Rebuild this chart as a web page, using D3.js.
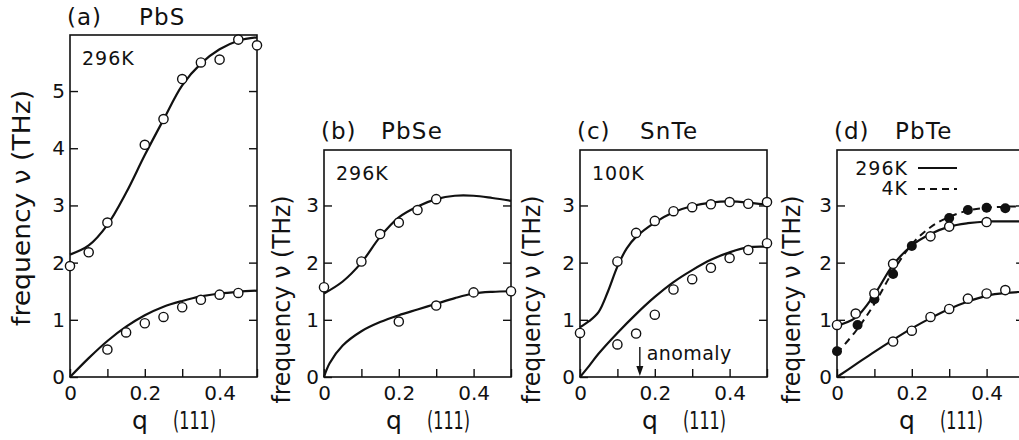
<!DOCTYPE html>
<html>
<head>
<meta charset="utf-8">
<script src="https://cdn.jsdelivr.net/npm/d3@7"></script>
<style>
  body { margin: 0; background: #fff; }
  text { font-family: "DejaVu Sans", sans-serif; fill: #111; }
</style>
</head>
<body>
<script>
'use strict';

// q along (111), frequency in THz
var qTicks = [0, 0.1, 0.2, 0.3, 0.4, 0.5],
    qLabels = [0, 0.2, 0.4];

// (a) PbS 296K
var pbsOpticPts = [[0, 1.94], [0.05, 2.18], [0.1, 2.70], [0.2, 4.06], [0.25, 4.51], [0.3, 5.21],
    [0.35, 5.50], [0.4, 5.55], [0.45, 5.90], [0.5, 5.80]];
var pbsAcousticPts = [[0.1, 0.48], [0.15, 0.78], [0.2, 0.94], [0.25, 1.05], [0.3, 1.22],
    [0.35, 1.35], [0.4, 1.44], [0.45, 1.47]];
var pbsOpticCurve = [[0, 2.14], [0.05, 2.3], [0.1, 2.66], [0.15, 3.22], [0.2, 3.88], [0.25, 4.5],
    [0.3, 5.1], [0.35, 5.48], [0.4, 5.73], [0.45, 5.88], [0.5, 5.94]];
var pbsAcousticCurve = [[0, 0], [0.05, 0.33], [0.1, 0.63], [0.15, 0.88], [0.2, 1.08], [0.25, 1.23],
    [0.3, 1.33], [0.35, 1.41], [0.4, 1.46], [0.45, 1.49], [0.5, 1.51]];

// (b) PbSe 296K
var pbseOpticPts = [[0, 1.57], [0.1, 2.02], [0.15, 2.50], [0.2, 2.70], [0.25, 2.92], [0.3, 3.11]];
var pbseAcousticPts = [[0.2, 0.97], [0.3, 1.25], [0.4, 1.48], [0.5, 1.50]];
var pbseOpticCurve = [[0, 1.46], [0.05, 1.67], [0.1, 2.0], [0.15, 2.45], [0.2, 2.79], [0.25, 2.98],
    [0.3, 3.11], [0.35, 3.17], [0.4, 3.17], [0.45, 3.13], [0.5, 3.08]];
var pbseAcousticCurve = [[0, 0], [0.015, 0.24], [0.05, 0.55], [0.1, 0.80], [0.15, 0.96], [0.2, 1.08],
    [0.25, 1.18], [0.3, 1.28], [0.35, 1.38], [0.4, 1.46], [0.45, 1.49], [0.5, 1.5]];

// (c) SnTe 100K
var snteOpticPts = [[0, 0.77], [0.1, 2.02], [0.15, 2.52], [0.2, 2.73], [0.25, 2.90], [0.3, 2.97],
    [0.35, 3.02], [0.4, 3.06], [0.45, 3.03], [0.5, 3.06]];
var snteAcousticPts = [[0.1, 0.57], [0.15, 0.76], [0.2, 1.09], [0.25, 1.53], [0.3, 1.71],
    [0.35, 1.91], [0.4, 2.08], [0.45, 2.22], [0.5, 2.34]];
var snteOpticCurve = [[0, 0.87], [0.025, 0.98], [0.05, 1.14], [0.075, 1.5], [0.1, 1.93], [0.125, 2.25],
    [0.15, 2.45], [0.2, 2.70], [0.25, 2.88], [0.3, 2.99], [0.35, 3.05], [0.4, 3.07], [0.45, 3.05], [0.5, 3.01]];
var snteAcousticCurve = [[0, 0], [0.025, 0.2], [0.05, 0.41], [0.1, 0.77], [0.15, 1.1], [0.2, 1.4],
    [0.25, 1.66], [0.3, 1.87], [0.35, 2.05], [0.4, 2.18], [0.45, 2.27], [0.5, 2.28]];
var snteAnomalyQ = 0.16;

// (d) PbTe 296K (open, solid) and 4K (filled, dashed)
var pbteOpticPts = [[0, 0.91], [0.05, 1.11], [0.1, 1.46], [0.15, 1.98], [0.25, 2.46], [0.3, 2.63], [0.4, 2.71]];
var pbteOptic4KPts = [[0, 0.45], [0.055, 0.91], [0.1, 1.36], [0.15, 1.80], [0.2, 2.29], [0.3, 2.78],
    [0.35, 2.92], [0.4, 2.96], [0.45, 2.95]];
var pbteAcousticPts = [[0.15, 0.62], [0.2, 0.81], [0.25, 1.05], [0.3, 1.19], [0.35, 1.37], [0.4, 1.46], [0.45, 1.52]];
var pbteOpticCurve = [[0, 0.9], [0.05, 1.04], [0.1, 1.44], [0.15, 1.96], [0.2, 2.3], [0.25, 2.5],
    [0.3, 2.63], [0.35, 2.69], [0.4, 2.72], [0.45, 2.72], [0.5, 2.72]];
var pbteOptic4KCurve = [[0, 0.42], [0.05, 0.8], [0.1, 1.28], [0.15, 1.85], [0.2, 2.32], [0.25, 2.62],
    [0.3, 2.8], [0.35, 2.91], [0.4, 2.96], [0.45, 2.98], [0.5, 2.98]];
var pbteAcousticCurve = [[0, 0], [0.05, 0.22], [0.1, 0.44], [0.15, 0.65], [0.2, 0.85], [0.25, 1.03],
    [0.3, 1.19], [0.35, 1.32], [0.4, 1.42], [0.45, 1.47], [0.5, 1.49]];

var panels = [
    {letter: '(a)', name: 'PbS', temp: '296K', left: 70, top: 35, vmax: 5.98, yTicks: [0, 1, 2, 3, 4, 5],
     labelX: 22, labelLen: 236, titleY: 25, nameDx: 72,
     curves: [pbsOpticCurve, pbsAcousticCurve], open: [pbsOpticPts, pbsAcousticPts]},
    {letter: '(b)', name: 'PbSe', temp: '296K', left: 324, top: 150, vmax: 3.97, yTicks: [0, 1, 2, 3],
     labelX: 282, labelLen: 208, titleY: 139, nameDx: 60,
     curves: [pbseOpticCurve, pbseAcousticCurve], open: [pbseOpticPts, pbseAcousticPts]},
    {letter: '(c)', name: 'SnTe', temp: '100K', left: 580, top: 150, vmax: 3.97, yTicks: [0, 1, 2, 3],
     labelX: 532, labelLen: 208, titleY: 139, nameDx: 63, anomaly: snteAnomalyQ,
     curves: [snteOpticCurve, snteAcousticCurve], open: [snteOpticPts, snteAcousticPts]},
    {letter: '(d)', name: 'PbTe', left: 837, top: 150, vmax: 3.97, yTicks: [0, 1, 2, 3],
     labelX: 792, labelLen: 208, titleY: 139, nameDx: 61, legend: true,
     curves: [pbteOpticCurve, pbteAcousticCurve], dashed: [pbteOptic4KCurve],
     filled: [pbteOptic4KPts], open: [pbteOpticPts, pbteAcousticPts]}
];

var W = 1019, H = 440, bottom = 377, plotW = 187;

var svg = d3.select('body').append('svg')
    .attr('width', W)
    .attr('height', H);

panels.forEach(drawPanel);

function drawPanel(p) {
    var x = d3.scaleLinear().domain([0, 0.5]).range([p.left, p.left + plotW]),
        y = d3.scaleLinear().domain([0, p.vmax]).range([bottom, p.top]);

    var g = svg.append('g').attr('class', 'panel');

    var line = d3.line()
        .x(function(d) { return x(d[0]); })
        .y(function(d) { return y(d[1]); })
        .curve(d3.curveCatmullRom.alpha(0.5));

    // axes, ticks pointing inward
    var axL = g.append('g').attr('transform', 'translate(' + x(0) + ',0)')
        .call(d3.axisLeft(y).tickValues(p.yTicks).tickSize(-8).tickPadding(5).tickFormat(d3.format('d')));
    var axR = g.append('g').attr('transform', 'translate(' + x(0.5) + ',0)')
        .call(d3.axisRight(y).tickValues(p.yTicks.slice(1)).tickSize(-8).tickFormat(''));
    var axB = g.append('g').attr('transform', 'translate(0,' + bottom + ')')
        .call(d3.axisBottom(x).tickValues(qTicks).tickSize(-8).tickPadding(9)
            .tickFormat(function(d) { return qLabels.indexOf(d) >= 0 ? d3.format('')(d) : ''; }));

    [axL, axR, axB].forEach(function(ax) {
        ax.select('.domain').remove();
        ax.selectAll('line').attr('stroke', '#111').attr('stroke-width', 1.4);
        ax.selectAll('text').style('font-family', '"DejaVu Sans", sans-serif')
            .style('font-size', '20px').attr('fill', '#111');
    });

    g.append('rect')
        .attr('x', x(0))
        .attr('y', y(p.vmax))
        .attr('width', x(0.5) - x(0))
        .attr('height', y(0) - y(p.vmax))
        .attr('fill', 'none')
        .attr('stroke', '#111')
        .attr('stroke-width', 1.6);

    // fitted curves
    g.selectAll('path.curve')
        .data(p.curves)
        .enter().append('path')
            .attr('class', 'curve')
            .attr('d', line)
            .attr('fill', 'none')
            .attr('stroke', '#111')
            .attr('stroke-width', 2.2);

    (p.dashed || []).forEach(function(c) {
        g.append('path')
            .attr('d', line(c))
            .attr('fill', 'none')
            .attr('stroke', '#111')
            .attr('stroke-width', 2)
            .attr('stroke-dasharray', '7,5');
    });

    // measured points
    (p.filled || []).forEach(function(pts) {
        g.selectAll(null)
            .data(pts)
            .enter().append('circle')
                .attr('cx', function(d) { return x(d[0]); })
                .attr('cy', function(d) { return y(d[1]); })
                .attr('r', 5)
                .attr('fill', '#111');
    });

    p.open.forEach(function(pts) {
        g.selectAll(null)
            .data(pts)
            .enter().append('circle')
                .attr('cx', function(d) { return x(d[0]); })
                .attr('cy', function(d) { return y(d[1]); })
                .attr('r', 4.6)
                .attr('fill', '#fff')
                .attr('stroke', '#111')
                .attr('stroke-width', 1.4);
    });

    // titles and labels
    g.append('text')
        .attr('x', p.left - 3)
        .attr('y', p.titleY)
        .style('font-size', '23px')
        .style('letter-spacing', '1px')
        .text(p.letter);
    g.append('text')
        .attr('x', p.left - 3 + p.nameDx)
        .attr('y', p.titleY)
        .style('font-size', '23px')
        .style('letter-spacing', '1.2px')
        .text(p.name);

    if(p.temp) {
        g.append('text')
            .attr('x', p.left + 12)
            .attr('y', p.top + 30)
            .style('font-size', '19px')
            .style('letter-spacing', '1px')
            .text(p.temp);
    }

    g.append('text')
        .attr('transform', 'translate(' + p.labelX + ',' + ((bottom + p.top) / 2 + (p.top > 100 ? 36 : 2)) + ') rotate(-90)')
        .attr('text-anchor', 'middle')
        .attr('dominant-baseline', 'central')
        .attr('textLength', p.labelLen)
        .attr('lengthAdjust', 'spacingAndGlyphs')
        .style('font-size', '24px')
        .text('frequency \u03bd (THz)');

    g.append('text')
        .attr('x', p.left + 70)
        .attr('y', 429)
        .attr('text-anchor', 'middle')
        .style('font-size', '25px')
        .text('q');
    g.append('text')
        .attr('x', p.left + 103)
        .attr('y', 429)
        .attr('textLength', 43)
        .attr('lengthAdjust', 'spacingAndGlyphs')
        .style('font-size', '25px')
        .text('(111)');

    if(p.anomaly !== undefined) {
        var ax = x(p.anomaly);
        g.append('line')
            .attr('x1', ax).attr('x2', ax)
            .attr('y1', 347).attr('y2', 368)
            .attr('stroke', '#111')
            .attr('stroke-width', 1.4);
        g.append('path')
            .attr('d', 'M' + (ax - 3.5) + ',366 L' + (ax + 3.5) + ',366 L' + ax + ',376 Z')
            .attr('fill', '#111');
        g.append('text')
            .attr('x', ax + 7)
            .attr('y', 360)
            .style('font-size', '19px')
            .style('letter-spacing', '0.4px')
            .text('anomaly');
    }

    if(p.legend) {
        var lx = p.left + 71;
        g.append('text')
            .attr('x', lx).attr('y', 175)
            .attr('text-anchor', 'end')
            .style('font-size', '19px')
            .style('letter-spacing', '1px')
            .text('296K');
        g.append('text')
            .attr('x', lx).attr('y', 195)
            .attr('text-anchor', 'end')
            .style('font-size', '19px')
            .style('letter-spacing', '1px')
            .text('4K');
        g.append('line')
            .attr('x1', lx + 10).attr('x2', lx + 49)
            .attr('y1', 168).attr('y2', 168)
            .attr('stroke', '#111').attr('stroke-width', 1.8);
        g.append('line')
            .attr('x1', lx + 10).attr('x2', lx + 49)
            .attr('y1', 189).attr('y2', 189)
            .attr('stroke', '#111').attr('stroke-width', 1.8)
            .attr('stroke-dasharray', '7,5');
    }
}
</script>
</body>
</html>
